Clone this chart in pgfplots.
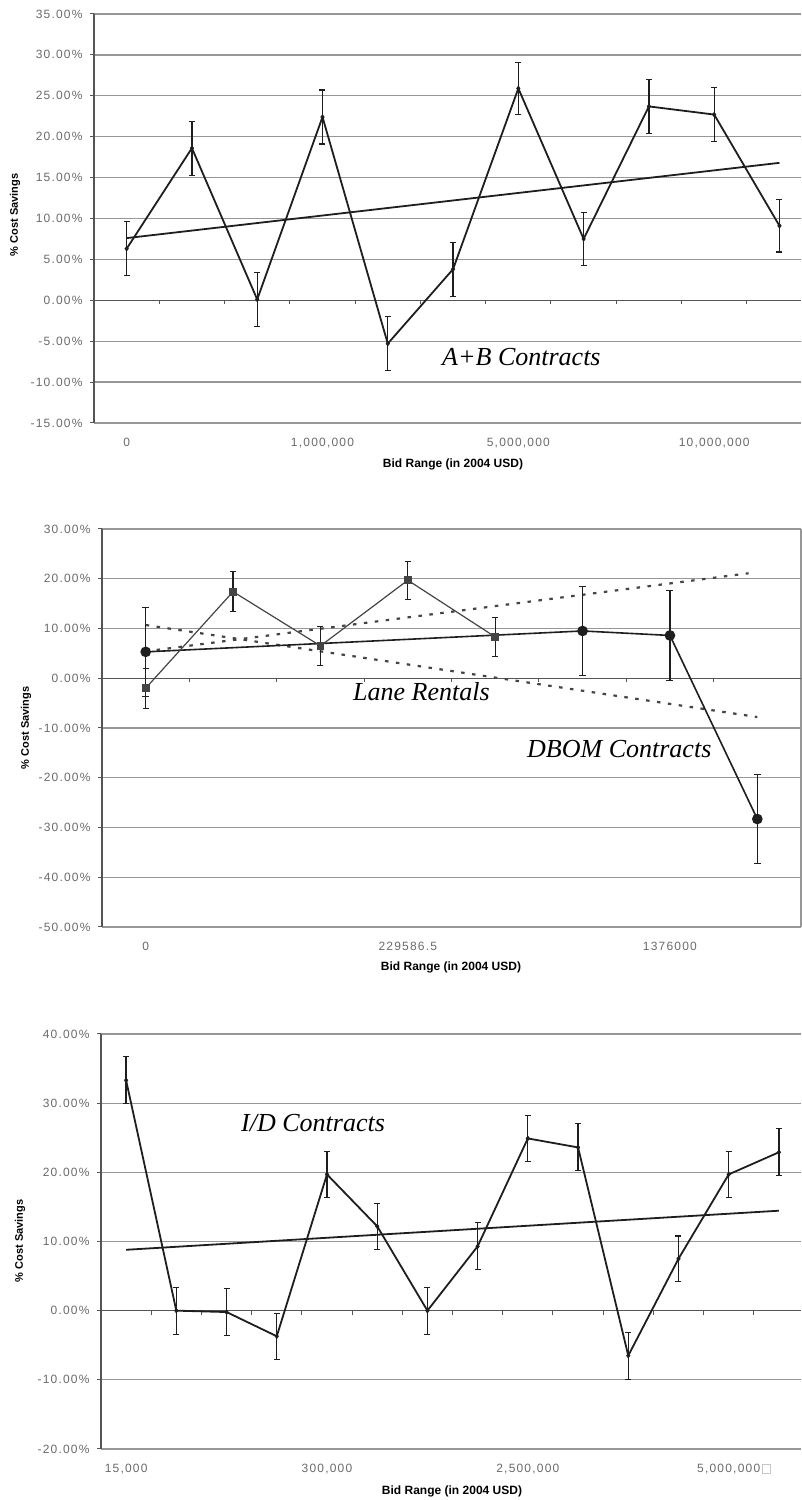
\documentclass[border=0pt]{standalone}
\usepackage{pgfplots}
\pgfplotsset{compat=1.18}
\usepackage{fontspec}
\setmainfont{Liberation Sans}
\newfontfamily\tickfont[LetterSpace=10]{Liberation Sans}
\newfontfamily\annfont{Liberation Serif}
\definecolor{gridgray}{HTML}{979797}
\definecolor{axgray}{HTML}{555555}
\definecolor{labgray}{HTML}{6A6A6A}
\definecolor{linecol}{HTML}{1E1E1E}
\definecolor{lanegray}{HTML}{444444}

\pgfplotsset{
  excel/.style={
    scale only axis,
    clip=false,
    axis y line*=left,
    axis x line*=bottom,
    x axis line style={draw=none},
    y axis line style={axgray, line width=1.4bp},
    ymajorgrids,
    grid style={gridgray, line width=1.3bp},
    ytick align=outside,
    ytick style={axgray, line width=1bp},
    major tick length=4bp,
    xtick style={draw=none},
    tick label style={font=\fontsize{12bp}{14bp}\tickfont, text=labgray},
    yticklabel style={anchor=east, xshift=-4bp},
    xticklabel style={anchor=base, yshift=-24bp},
  },
  ser/.style={linecol, line width=1.8bp, mark=diamond*, mark size=2.4bp, mark options={linecol, line width=0.5bp},
    error bars/.cd, y dir=both, y explicit,
    error bar style={line width=1.3bp, linecol},
    error mark options={rotate=90, mark size=3bp, line width=1.1bp, linecol}},
}

\pgfplotstableread{
x y e
0 6.3 3.3
1 18.6 3.3
2 0.1 3.3
3 22.4 3.3
4 -5.3 3.3
5 3.8 3.3
6 25.9 3.2
7 7.5 3.2
8 23.7 3.3
9 22.7 3.3
10 9.1 3.2
}\abdata

\pgfplotstableread{
x y e
0 -2.0 4.0
1 17.4 4.0
2 6.5 3.9
3 19.7 3.8
4 8.3 3.9
}\lanedata

\pgfplotstableread{
x y e
0 5.3 9.0
5 9.5 9.0
6 8.6 9.1
7 -28.3 9.0
}\dbomdata

\pgfplotstableread{
x y e
0 33.3 3.4
1 0.0 3.4
2 -0.2 3.4
3 -3.7 3.3
4 19.7 3.3
5 12.2 3.3
6 0.0 3.4
7 9.3 3.4
8 24.9 3.3
9 23.6 3.4
10 -6.5 3.4
11 7.5 3.3
12 19.7 3.3
13 22.9 3.4
}\iddata

\begin{document}
\begin{tikzpicture}[x=1bp,y=1bp]
\useasboundingbox (0,0) rectangle (801,1500);

% ---------------- Panel 1: A+B ----------------
\begin{axis}[excel,
  at={(94bp,1077bp)}, anchor=south west,
  width=707bp, height=409bp,
  xmin=-0.5, xmax=10.33, ymin=-15, ymax=35,
  ytick={-15,-10,-5,0,5,10,15,20,25,30,35},
  yticklabels={-15.00\%,-10.00\%,-5.00\%,0.00\%,5.00\%,10.00\%,15.00\%,20.00\%,25.00\%,30.00\%,35.00\%},
  xtick={0,3,6,9},
  xticklabels={0,{1,000,000},{5,000,000},{10,000,000}},
]
\draw[axgray, line width=1.4bp] (axis cs:-0.5,0) -- (axis cs:10.33,0);
\pgfplotsinvokeforeach{0.5,1.5,2.5,3.5,4.5,5.5,6.5,7.5,8.5,9.5}{
  \draw[axgray, line width=1bp] (axis cs:#1,0) -- ++(0bp,-4bp);
}
\addplot[linecol, line width=1.8bp] coordinates {(0,7.6) (10,16.8)};
\addplot[ser] table[x=x,y=y,y error=e] {\abdata};
\end{axis}

% ---------------- Panel 2: Lane Rentals / DBOM ----------------
\begin{axis}[excel,
  at={(102bp,573bp)}, anchor=south west,
  width=699bp, height=398bp,
  xmin=-0.5, xmax=7.5, ymin=-50, ymax=30,
  ytick={-50,-40,-30,-20,-10,0,10,20,30},
  yticklabels={-50.00\%,-40.00\%,-30.00\%,-20.00\%,-10.00\%,0.00\%,10.00\%,20.00\%,30.00\%},
  xtick={0,3,6},
  xticklabels={0,229586.5,1376000},
]
\draw[gridgray, line width=1.3bp] (axis cs:7.5,-50) -- (axis cs:7.5,30);
\draw[axgray, line width=1.4bp] (axis cs:-0.5,0) -- (axis cs:7.5,0);
\pgfplotsinvokeforeach{0.5,1.5,2.5,3.5,4.5,5.5,6.5}{
  \draw[axgray, line width=1bp] (axis cs:#1,0) -- ++(0bp,-4bp);
}
\addplot[lanegray, line width=2.2bp, dash pattern=on 3.5bp off 7.5bp] coordinates {(0,5.4) (6.9,21.1)};
\addplot[lanegray, line width=2.2bp, dash pattern=on 3.5bp off 7.5bp] coordinates {(0,10.7) (7,-7.8)};
\addplot[linecol, line width=1.6bp, mark=*, mark size=4.5bp, mark options={linecol},
  error bars/.cd, y dir=both, y explicit,
  error bar style={line width=1.5bp, linecol},
  error mark options={rotate=90, mark size=3.5bp, line width=1.1bp, linecol}]
  table[x=x,y=y,y error=e] {\dbomdata};
\addplot[lanegray, line width=1.2bp, mark=square*, mark size=3.3bp, mark options={lanegray},
  error bars/.cd, y dir=both, y explicit,
  error bar style={line width=1.3bp, linecol},
  error mark options={rotate=90, mark size=3bp, line width=1.1bp, linecol}]
  table[x=x,y=y,y error=e] {\lanedata};
\end{axis}

% ---------------- Panel 3: I/D ----------------
\begin{axis}[excel,
  at={(101bp,51bp)}, anchor=south west,
  width=700bp, height=415bp,
  xmin=-0.5, xmax=13.44, ymin=-20, ymax=40,
  ytick={-20,-10,0,10,20,30,40},
  yticklabels={-20.00\%,-10.00\%,0.00\%,10.00\%,20.00\%,30.00\%,40.00\%},
  xtick={0,4,8,12},
  xticklabels={{15,000},{300,000},{2,500,000},{5,000,000\rlap{\hspace{2bp}\textcolor{gray!45}{\fboxsep=0pt\fboxrule=0.7bp\fbox{\rule{0pt}{8bp}\hspace{7bp}}}}}},
]
\draw[axgray, line width=1.4bp] (axis cs:-0.5,0) -- (axis cs:13.44,0);
\pgfplotsinvokeforeach{0.5,1.5,2.5,3.5,4.5,5.5,6.5,7.5,8.5,9.5,10.5,11.5,12.5}{
  \draw[axgray, line width=1bp] (axis cs:#1,0) -- ++(0bp,-4bp);
}
\addplot[linecol, line width=1.8bp] coordinates {(0,8.8) (13,14.45)};
\addplot[ser] table[x=x,y=y,y error=e] {\iddata};
\end{axis}

% ---------------- Titles ----------------
\begin{scope}[every node/.style={inner sep=0pt}]
\node[anchor=base, font=\fontsize{12bp}{14bp}\bfseries] at (453,1032) {Bid Range (in 2004 USD)};
\node[anchor=base, font=\fontsize{12bp}{14bp}\bfseries] at (451,529) {Bid Range (in 2004 USD)};
\node[anchor=base, font=\fontsize{12bp}{14bp}\bfseries] at (452,5) {Bid Range (in 2004 USD)};
\node[rotate=90, font=\fontsize{11bp}{13bp}\bfseries] at (15,1285) {\% Cost Savings};
\node[rotate=90, font=\fontsize{11bp}{13bp}\bfseries] at (26,772) {\% Cost Savings};
\node[rotate=90, font=\fontsize{11bp}{13bp}\bfseries] at (20,259) {\% Cost Savings};

\node[anchor=base west, font=\fontsize{26bp}{30bp}\annfont\itshape] at (442,1134) {A+B Contracts};
\node[anchor=base west, font=\fontsize{26bp}{30bp}\annfont\itshape] at (353,799) {Lane Rentals};
\node[anchor=base west, font=\fontsize{26bp}{30bp}\annfont\itshape] at (527,742) {DBOM Contracts};
\node[anchor=base west, font=\fontsize{26bp}{30bp}\annfont\itshape] at (241,368) {I/D Contracts};
\end{scope}
\end{tikzpicture}
\end{document}
